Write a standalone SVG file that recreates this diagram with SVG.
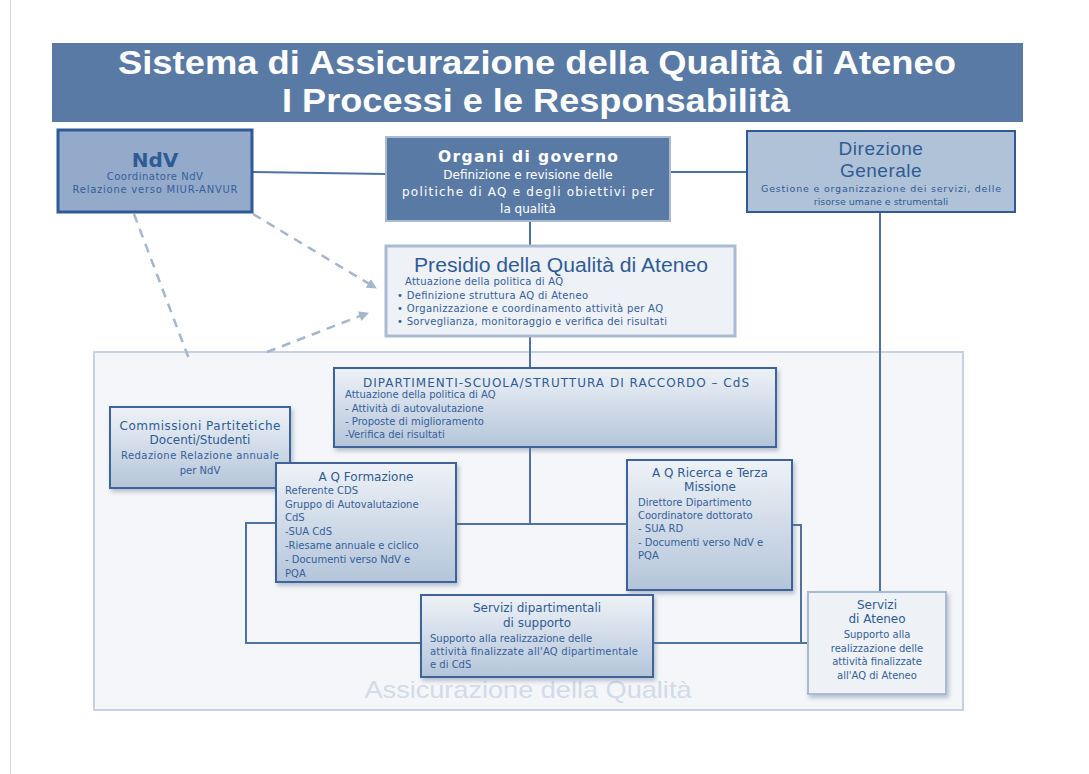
<svg xmlns="http://www.w3.org/2000/svg" width="1089" height="774" viewBox="0 0 1089 774">
<defs>
<linearGradient id="g" x1="0" y1="0" x2="0" y2="1">
<stop offset="0" stop-color="#eef2f7"/>
<stop offset="1" stop-color="#b4c5da"/>
</linearGradient>
<filter id="sh" x="-5%" y="-5%" width="115%" height="120%">
<feDropShadow dx="2" dy="3" stdDeviation="2" flood-color="#6b7f99" flood-opacity="0.45"/>
</filter>
<marker id="ah" viewBox="0 0 10 10" refX="9" refY="5" markerWidth="4" markerHeight="4" orient="auto" markerUnits="strokeWidth">
<path d="M0,0 L10,5 L0,10 z" fill="#a5b6cd"/>
</marker>
</defs>
<style>
text{font-family:"DejaVu Sans","Liberation Sans",sans-serif;}
.lib{font-family:"Liberation Sans",Arial,sans-serif;}
.s{font-size:10px;fill:#35609a;}
.c{text-anchor:middle;}
.h{font-size:12px;fill:#2f5b95;}
.ln{stroke:#4f72a3;stroke-width:2;fill:none;}
.dash{stroke:#a5b6cd;stroke-width:2.5;fill:none;stroke-dasharray:9 7;}
.grad{fill:url(#g);stroke:#3e6399;stroke-width:2;filter:url(#sh);}
</style>
<rect width="1089" height="774" fill="#ffffff"/>
<line x1="10.5" y1="0" x2="10.5" y2="774" stroke="#d8d8d8" stroke-width="1"/>

<g id="title">
<rect x="52" y="43" width="971" height="79" fill="#5a7aa6"/>
<text x="537" y="74" class="lib" text-anchor="middle" font-weight="bold" font-size="33" fill="#ffffff" textLength="838" lengthAdjust="spacingAndGlyphs">Sistema di Assicurazione della Qualità di Ateneo</text>
<text x="536" y="112" class="lib" text-anchor="middle" font-weight="bold" font-size="33" fill="#ffffff" textLength="508" lengthAdjust="spacingAndGlyphs">I Processi e le Responsabilità</text>
</g>

<g id="aq-area">
<rect x="94" y="352" width="869" height="358" fill="#f4f6f9" stroke="#c6d2e1" stroke-width="2"/>
<text x="528" y="698" class="lib" text-anchor="middle" font-size="24" fill="#d2dbe8" textLength="327" lengthAdjust="spacingAndGlyphs">Assicurazione della Qualità</text>
</g>

<g id="connectors">
<line class="ln" x1="252" y1="172" x2="386" y2="174"/>
<line class="ln" x1="670" y1="172" x2="747" y2="172"/>
<line class="ln" x1="530" y1="221" x2="530" y2="246"/>
<line class="ln" x1="530" y1="336" x2="530" y2="368"/>
<line class="ln" x1="880" y1="212" x2="880" y2="592"/>
<polyline class="ln" points="530,447 530,524"/>
<line class="ln" x1="456" y1="524" x2="627" y2="524"/>
<polyline class="ln" points="276,523 246,523 246,643 421,643"/>
<polyline class="ln" points="792,525 801,525 801,643 653,643"/>
<line class="ln" x1="801" y1="643" x2="808" y2="643"/>
<line class="dash" x1="134" y1="214" x2="189" y2="359"/>
<line class="dash" x1="253" y1="214" x2="376" y2="288" marker-end="url(#ah)"/>
<line class="dash" x1="267" y1="352" x2="368" y2="313" marker-end="url(#ah)"/>
</g>

<g id="ndv">
<rect x="58" y="130" width="194" height="82" fill="#94aaca" stroke="#2e5a96" stroke-width="3"/>
<text x="155" y="167" class="c" font-weight="bold" font-size="20" fill="#2f5b95">NdV</text>
<text x="155" y="180" class="c s" letter-spacing="0.5">Coordinatore NdV</text>
<text x="155" y="193" class="c s" textLength="165">Relazione verso MIUR-ANVUR</text>
</g>

<g id="organi">
<rect x="386" y="137" width="284" height="84" fill="#5a7aa6" stroke="#a9bbd4" stroke-width="2"/>
<text x="528" y="162" class="c" font-weight="bold" font-size="15.5" fill="#ffffff" textLength="180">Organi di governo</text>
<text x="528" y="179" class="c" font-size="12" fill="#ffffff">Definizione e revisione delle</text>
<text x="528" y="196" class="c" font-size="12" fill="#ffffff" textLength="252">politiche di AQ e degli obiettivi per</text>
<text x="528" y="213" class="c" font-size="12" fill="#ffffff">la qualità</text>
</g>

<g id="direzione">
<rect x="747" y="131" width="268" height="81" fill="#b0c2d8" stroke="#2e5a96" stroke-width="2"/>
<text x="881" y="155" class="c lib" font-size="19" fill="#2f5b95" letter-spacing="0.5">Direzione</text>
<text x="881" y="177" class="c lib" font-size="19" fill="#2f5b95" letter-spacing="0.5">Generale</text>
<text x="881" y="192" class="c" font-size="9.5" fill="#2f5b95" textLength="240">Gestione e organizzazione dei servizi, delle</text>
<text x="881" y="205" class="c" font-size="9.5" fill="#2f5b95">risorse umane e strumentali</text>
</g>

<g id="presidio">
<rect x="386" y="246" width="349" height="90" fill="#eef2f7" stroke="#a9bbd4" stroke-width="3"/>
<text x="561" y="272" class="c lib" font-size="20" fill="#2f5b95" textLength="294" lengthAdjust="spacingAndGlyphs">Presidio della Qualità di Ateneo</text>
<text x="405" y="285" class="s" textLength="158">Attuazione della politica di AQ</text>
<text x="397" y="299" class="s" textLength="191">•  Definizione struttura AQ di Ateneo</text>
<text x="397" y="312" class="s" textLength="266">•  Organizzazione e coordinamento attività per AQ</text>
<text x="397" y="325" class="s" textLength="270">•  Sorveglianza, monitoraggio e verifica dei risultati</text>
</g>

<g id="dipartimenti">
<rect class="grad" x="334" y="368" width="442" height="79"/>
<text x="556" y="387" class="c h" textLength="386">DIPARTIMENTI-SCUOLA/STRUTTURA DI RACCORDO – CdS</text>
<text x="345" y="398" class="s">Attuazione della politica di AQ</text>
<text x="345" y="412" class="s">- Attività di autovalutazione</text>
<text x="345" y="425" class="s">- Proposte di miglioramento</text>
<text x="345" y="438" class="s">-Verifica dei risultati</text>
</g>

<g id="commissioni">
<rect class="grad" x="110" y="407" width="180" height="81"/>
<text x="200" y="430" class="c h" textLength="161">Commissioni Partitetiche</text>
<text x="200" y="444" class="c h">Docenti/Studenti</text>
<text x="200" y="459" class="c s" textLength="158">Redazione Relazione annuale</text>
<text x="200" y="474" class="c s">per NdV</text>
</g>

<g id="aq-formazione">
<rect class="grad" x="276" y="463" width="180" height="119"/>
<text x="366" y="481" class="c h">A Q Formazione</text>
<text x="285" y="494" class="s">Referente CDS</text>
<text x="285" y="508" class="s">Gruppo di Autovalutazione</text>
<text x="285" y="521" class="s">CdS</text>
<text x="285" y="535" class="s">-SUA CdS</text>
<text x="285" y="549" class="s">-Riesame annuale e ciclico</text>
<text x="285" y="563" class="s">- Documenti verso NdV e</text>
<text x="285" y="577" class="s">PQA</text>
</g>

<g id="aq-ricerca">
<rect class="grad" x="627" y="460" width="165" height="130"/>
<text x="710" y="477" class="c h">A Q Ricerca e Terza</text>
<text x="710" y="491" class="c h">Missione</text>
<text x="638" y="506" class="s">Direttore Dipartimento</text>
<text x="638" y="519" class="s">Coordinatore dottorato</text>
<text x="638" y="532" class="s">- SUA RD</text>
<text x="638" y="546" class="s">- Documenti verso NdV e</text>
<text x="638" y="559" class="s">PQA</text>
</g>

<g id="servizi-dip">
<rect class="grad" x="421" y="595" width="232" height="82"/>
<text x="537" y="612" class="c h">Servizi dipartimentali</text>
<text x="537" y="627" class="c h">di supporto</text>
<text x="430" y="642" class="s">Supporto alla realizzazione delle</text>
<text x="430" y="655" class="s" textLength="208">attività finalizzate all'AQ dipartimentale</text>
<text x="430" y="668" class="s">e di CdS</text>
</g>

<g id="servizi-ateneo">
<rect x="808" y="592" width="138" height="102" fill="#eef2f7" stroke="#a9bbd4" stroke-width="2" filter="url(#sh)"/>
<text x="877" y="609" class="c h">Servizi</text>
<text x="877" y="623" class="c h">di Ateneo</text>
<text x="877" y="638" class="c s">Supporto alla</text>
<text x="877" y="652" class="c s">realizzazione delle</text>
<text x="877" y="665" class="c s">attività finalizzate</text>
<text x="877" y="679" class="c s">all'AQ di Ateneo</text>
</g>
</svg>
